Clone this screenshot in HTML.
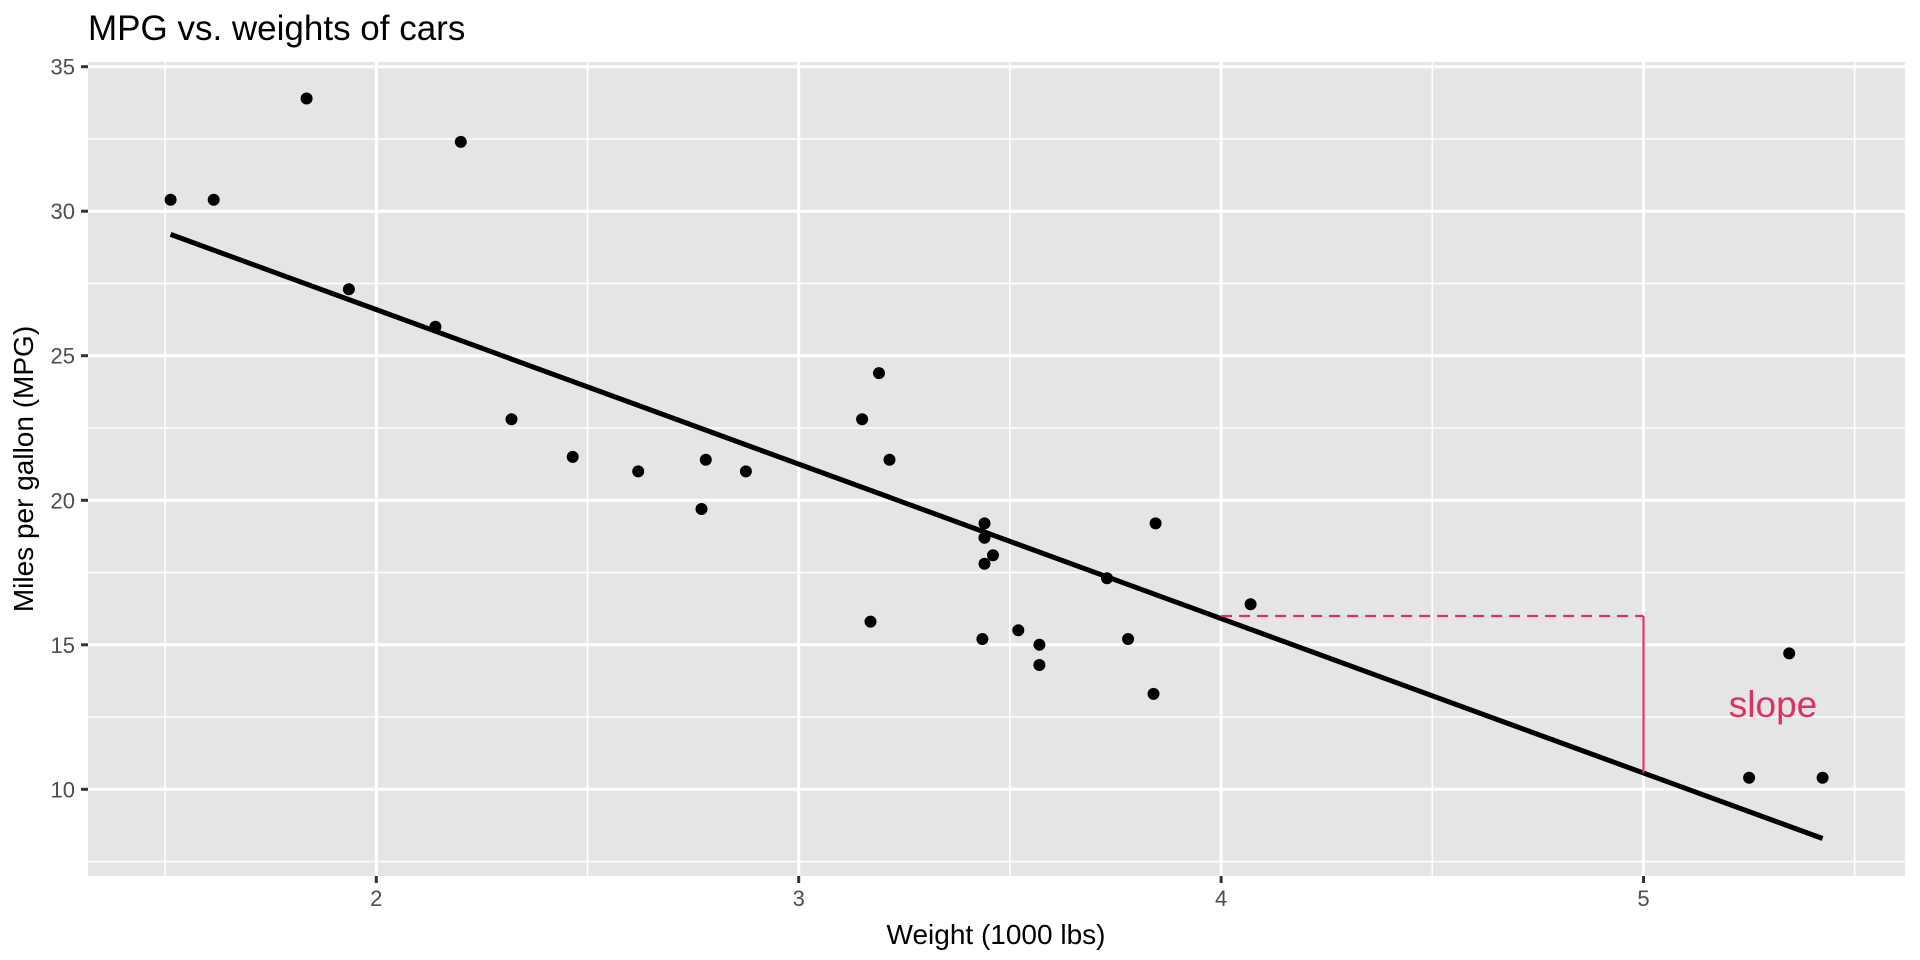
<!DOCTYPE html>
<html><head><meta charset="utf-8"><style>body{margin:0;background:#fff}svg{display:block}text{font-family:"Liberation Sans",Arial,sans-serif}</style></head>
<body>
<svg width="1920" height="960" viewBox="0 0 1920 960" xmlns="http://www.w3.org/2000/svg">
<rect x="88" y="62" width="1817" height="814" fill="#E5E5E5"/>
<g stroke="#fff" stroke-width="1.5">
<line x1="88" x2="1905" y1="139.0" y2="139.0"/><line x1="88" x2="1905" y1="283.5" y2="283.5"/><line x1="88" x2="1905" y1="428.0" y2="428.0"/><line x1="88" x2="1905" y1="572.5" y2="572.5"/><line x1="88" x2="1905" y1="717.0" y2="717.0"/><line x1="88" x2="1905" y1="861.6" y2="861.6"/>
<line y1="62" y2="876" x1="165.1" x2="165.1"/><line y1="62" y2="876" x1="587.5" x2="587.5"/><line y1="62" y2="876" x1="1009.9" x2="1009.9"/><line y1="62" y2="876" x1="1432.3" x2="1432.3"/><line y1="62" y2="876" x1="1854.7" x2="1854.7"/>
</g>
<g stroke="#fff" stroke-width="3">
<line x1="88" x2="1905" y1="66.7" y2="66.7"/><line x1="88" x2="1905" y1="211.2" y2="211.2"/><line x1="88" x2="1905" y1="355.7" y2="355.7"/><line x1="88" x2="1905" y1="500.3" y2="500.3"/><line x1="88" x2="1905" y1="644.8" y2="644.8"/><line x1="88" x2="1905" y1="789.3" y2="789.3"/>
<line y1="62" y2="876" x1="376.3" x2="376.3"/><line y1="62" y2="876" x1="798.7" x2="798.7"/><line y1="62" y2="876" x1="1221.1" x2="1221.1"/><line y1="62" y2="876" x1="1643.5" x2="1643.5"/>
</g>
<g stroke="#333" stroke-width="3">
<line x1="81" x2="88" y1="66.7" y2="66.7"/><line x1="81" x2="88" y1="211.2" y2="211.2"/><line x1="81" x2="88" y1="355.7" y2="355.7"/><line x1="81" x2="88" y1="500.3" y2="500.3"/><line x1="81" x2="88" y1="644.8" y2="644.8"/><line x1="81" x2="88" y1="789.3" y2="789.3"/>
<line y1="876" y2="883" x1="376.3" x2="376.3"/><line y1="876" y2="883" x1="798.7" x2="798.7"/><line y1="876" y2="883" x1="1221.1" x2="1221.1"/><line y1="876" y2="883" x1="1643.5" x2="1643.5"/>
</g>
<g fill="#4D4D4D" font-size="22" text-anchor="end">
<text x="75" y="74.7">35</text><text x="75" y="219.2">30</text><text x="75" y="363.7">25</text><text x="75" y="508.3">20</text><text x="75" y="652.8">15</text><text x="75" y="797.3">10</text>
</g>
<g fill="#4D4D4D" font-size="22" text-anchor="middle">
<text x="376.3" y="906">2</text><text x="798.7" y="906">3</text><text x="1221.1" y="906">4</text><text x="1643.5" y="906">5</text>
</g>
<g fill="#000">
<circle cx="638.2" cy="471.4" r="6"/><circle cx="745.9" cy="471.4" r="6"/><circle cx="511.5" cy="419.3" r="6"/><circle cx="889.5" cy="459.8" r="6"/><circle cx="984.5" cy="537.8" r="6"/><circle cx="993.0" cy="555.2" r="6"/><circle cx="1039.4" cy="665.0" r="6"/><circle cx="879.0" cy="373.1" r="6"/><circle cx="862.1" cy="419.3" r="6"/><circle cx="984.5" cy="523.4" r="6"/><circle cx="984.5" cy="563.8" r="6"/><circle cx="1250.6" cy="604.3" r="6"/><circle cx="1107.0" cy="578.3" r="6"/><circle cx="1128.1" cy="639.0" r="6"/><circle cx="1749.1" cy="777.7" r="6"/><circle cx="1822.6" cy="777.7" r="6"/><circle cx="1789.2" cy="653.4" r="6"/><circle cx="460.8" cy="141.9" r="6"/><circle cx="213.7" cy="199.7" r="6"/><circle cx="306.6" cy="98.5" r="6"/><circle cx="572.7" cy="456.9" r="6"/><circle cx="1018.3" cy="630.3" r="6"/><circle cx="982.4" cy="639.0" r="6"/><circle cx="1153.5" cy="693.9" r="6"/><circle cx="1155.6" cy="523.4" r="6"/><circle cx="348.9" cy="289.3" r="6"/><circle cx="435.4" cy="326.8" r="6"/><circle cx="170.6" cy="199.7" r="6"/><circle cx="870.5" cy="621.6" r="6"/><circle cx="701.5" cy="509.0" r="6"/><circle cx="1039.4" cy="644.8" r="6"/><circle cx="705.8" cy="459.8" r="6"/>
</g>
<line x1="170.6" y1="234.4" x2="1822.6" y2="838.5" stroke="#000" stroke-width="5"/>
<line x1="1221.1" y1="616" x2="1643.5" y2="616" stroke="#DC3263" stroke-width="2.2" stroke-dasharray="11,7"/>
<line x1="1643.5" y1="616" x2="1643.5" y2="773" stroke="#DC3263" stroke-width="2.2"/>
<text x="1773" y="717" fill="#DC3263" font-size="37" text-anchor="middle">slope</text>
<text x="88" y="40" fill="#000" font-size="35">MPG vs. weights of cars</text>
<text x="996" y="944" fill="#000" font-size="28" text-anchor="middle">Weight (1000 lbs)</text>
<text transform="translate(33,469) rotate(-90)" fill="#000" font-size="28" text-anchor="middle">Miles per gallon (MPG)</text>
</svg>
</body></html>
